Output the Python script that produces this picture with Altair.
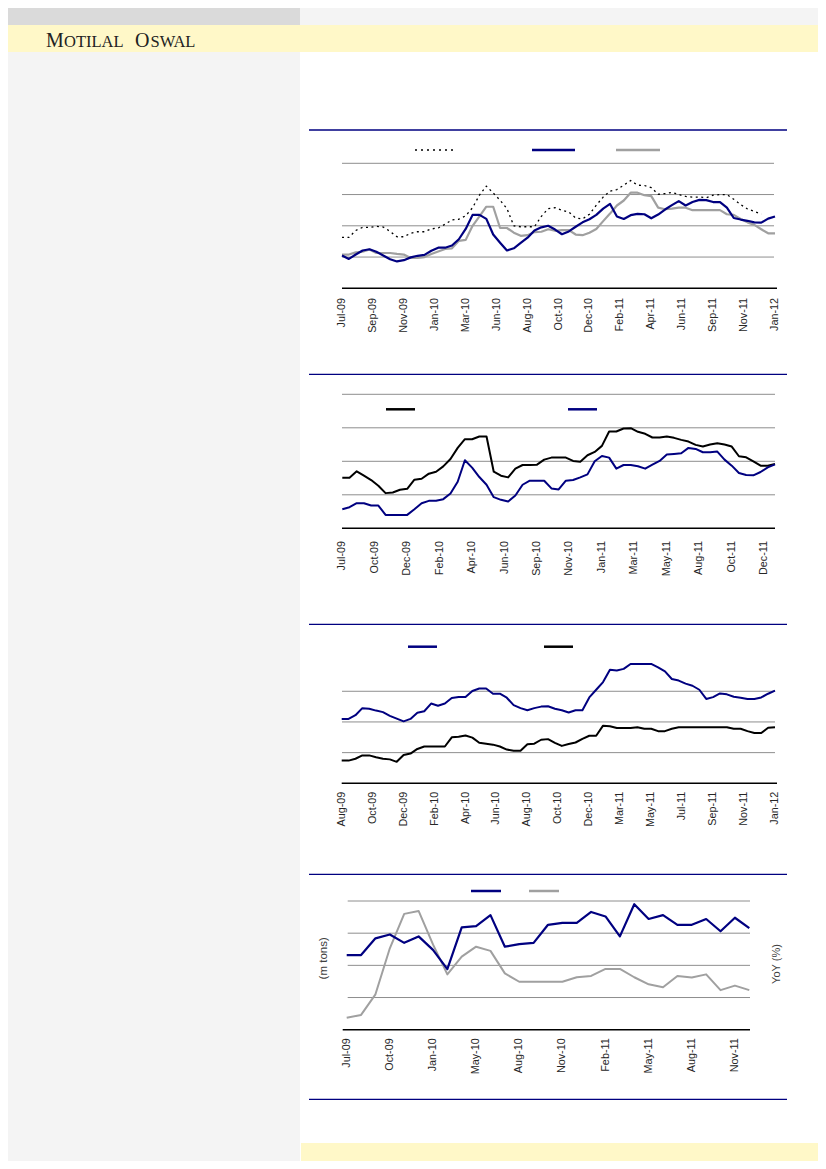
import altair as alt
import pandas as pd

# ------------------------------------------------------------------ data
# Chart 1 (weekly, index 0..126)
C1_LABELS = ["Jul-09", "Sep-09", "Nov-09", "Jan-10", "Mar-10", "Jun-10", "Aug-10", "Oct-10",
             "Dec-10", "Feb-11", "Apr-11", "Jun-11", "Sep-11", "Nov-11", "Jan-12"]
C1_TICKS = [0, 9, 18, 27, 36, 45, 54, 63, 72, 81, 90, 99, 108, 117, 126]
C1_WEEK = list(range(0, 127, 2))
C1_DOT = [163, 163, 185, 195, 195, 198, 196, 182, 165, 165, 176, 181, 181, 190, 193, 205,
          219, 221, 232, 258, 298, 327, 305, 282, 255, 200, 197, 197, 197, 230, 255, 258,
          250, 244, 225, 222, 237, 266, 292, 311, 316, 330, 345, 330, 329, 322, 301, 303,
          307, 300, 294, 292, 292, 290, 298, 300, 300, 285, 268, 254, 246, 237, None, None]
C1_BLUE = [105, 94, 108, 121, 125, 117, 105, 93, 86, 90, 99, 104, 107, 120, 130, 130,
           137, 157, 190, 235, 235, 222, 172, 146, 121, 128, 145, 162, 185, 195, 200, 188,
           173, 182, 197, 211, 221, 235, 255, 270, 230, 222, 234, 238, 237, 224, 236, 252,
           266, 279, 265, 276, 283, 282, 276, 276, 258, 225, 220, 216, 211, 210, 223, 230]
C1_GRAY = [108, 108, 115, 117, 124, 113, 113, 113, 110, 108, 97, 97, 100, 110, 118, 126,
           128, 152, 155, 200, 230, 261, 261, 193, 193, 178, 168, 170, 180, 181, 189, 184,
           186, 186, 172, 170, 178, 190, 215, 239, 265, 281, 306, 306, 298, 295, 258, 253,
           255, 258, 258, 250, 250, 250, 250, 250, 237, 235, 222, 211, 203, 189, 176, 176]

# Chart 2 (weekly, index 0..120)
C2_LABELS = ["Jul-09", "Oct-09", "Dec-09", "Feb-10", "Apr-10", "Jun-10", "Sep-10", "Nov-10",
             "Jan-11", "Mar-11", "May-11", "Aug-11", "Oct-11", "Dec-11"]
C2_TICKS = [0, 9, 18, 27, 36, 45, 54, 63, 72, 81, 90, 99, 108, 117]
C2_WEEK = list(range(0, 121, 2))
C2_BLACK = [151, 151, 170, 157, 144, 127, 105, 107, 115, 118, 145, 148, 163, 169, 185, 207,
            240, 266, 266, 274, 274, 169, 157, 152, 178, 189, 189, 190, 205, 211, 211,
            211, 201, 199, 218, 228, 246, 289, 289, 298, 299, 288, 282, 271, 271, 274, 270,
            264, 259, 249, 244, 250, 254, 250, 244, 215, 212, 200, 187, 187, 192]
C2_BLUE = [57, 63, 75, 75, 68, 68, 40, 40, 40, 40, 57, 75, 82, 82, 87, 104,
           139, 203, 181, 153, 130, 93, 85, 80, 98, 130, 142, 142, 142, 119, 116,
           142, 144, 152, 161, 200, 216, 211, 178, 189, 189, 185, 178, 190, 201, 220, 222,
           224, 240, 237, 227, 227, 229, 205, 187, 165, 159, 158, 168, 182, 191]

# Chart 3 (weekly, index 0..126)
C3_LABELS = ["Aug-09", "Oct-09", "Dec-09", "Feb-10", "Apr-10", "Jun-10", "Aug-10", "Oct-10",
             "Dec-10", "Mar-11", "May-11", "Jul-11", "Sep-11", "Nov-11", "Jan-12"]
C3_TICKS = [0, 9, 18, 27, 36, 45, 54, 63, 72, 81, 90, 99, 108, 117, 126]
C3_WEEK = list(range(0, 127, 2))
C3_BLUE = [210, 210, 222, 245, 243, 237, 232, 220, 211, 202, 210, 230, 235, 260, 253, 260,
           278, 281, 281, 301, 309, 309, 292, 292, 279, 255, 245, 238, 245, 250, 251, 243,
           238, 231, 238, 238, 280, 305, 330, 370, 368, 373, 389, 389, 389, 389, 378, 365,
           340, 335, 325, 318, 305, 275, 281, 293, 290, 282, 279, 275, 275, 280, 292, 302]
C3_BLACK = [74, 74, 80, 91, 91, 85, 80, 78, 70, 92, 97, 112, 120, 120, 120, 120,
            150, 152, 156, 149, 132, 129, 126, 120, 110, 106, 106, 127, 129, 142, 144, 132,
            122, 128, 133, 145, 155, 155, 188, 186, 180, 180, 180, 183, 178, 178, 170, 170,
            178, 183, 183, 183, 183, 183, 183, 183, 183, 178, 178, 170, 164, 164, 181, 183]

# Chart 4 (monthly, index 0..28)
C4_LABELS = ["Jul-09", "Oct-09", "Jan-10", "May-10", "Aug-10", "Nov-10", "Feb-11", "May-11",
             "Aug-11", "Nov-11"]
C4_TICKS = [0, 3, 6, 9, 12, 15, 18, 21, 24, 27]
C4_MONTH = list(range(29))
C4_OUTPUT = [5.16, 5.16, 5.42, 5.48, 5.35, 5.45, 5.24, 4.94, 5.59, 5.61,
             5.78, 5.29, 5.33, 5.35, 5.63, 5.66, 5.66, 5.83, 5.76, 5.45,
             5.95, 5.72, 5.78, 5.63, 5.63, 5.72, 5.53, 5.74, 5.58]
C4_YOY = [-6.3, -5.4, 1.0, 15.3, 26.0, 26.9, 16.5, 7.2, 12.7, 15.8,
          14.5, 7.5, 4.9, 4.9, 4.9, 4.9, 6.3, 6.7, 8.9, 8.9,
          6.3, 4.1, 3.2, 6.7, 6.2, 7.2, 2.3, 3.7, 2.3]

# ------------------------------------------------------------------ styles
NAVY = "#000080"
GRAYL = "#A0A0A0"
BLACK = "#000000"
GRID = "#8E8E8E"
LABEL_FONT = "Liberation Sans"
LABEL_COLOR = "#262626"

one = alt.Data(values=[{"k": 0}])


def rect(x0, x1, y0, y1, color):
    return alt.Chart(one).mark_rect(color=color, strokeWidth=0).encode(
        x=alt.value(x0), x2=alt.value(x1), y=alt.value(y0), y2=alt.value(y1))


def hline(x0, x1, y, color, width=1.0, dash=None):
    kw = dict(color=color, strokeWidth=width)
    if dash:
        kw["strokeDash"] = dash
    return alt.Chart(one).mark_rule(**kw).encode(
        x=alt.value(x0), x2=alt.value(x1), y=alt.value(y))


def text(txt, x, y, size, font, color, align="left", angle=0, baseline="alphabetic"):
    return alt.Chart(one).mark_text(text=txt, fontSize=size, font=font, color=color,
                                    align=align, angle=angle, baseline=baseline).encode(
        x=alt.value(x), y=alt.value(y))


def sc(domain, rng):
    return alt.Scale(domain=domain, range=rng, nice=False, zero=False)


def series(xs, vals, xscale, yscale, color, width, dash=None):
    df = pd.DataFrame({"t": xs, "v": vals})
    kw = dict(color=color, strokeWidth=width, strokeJoin="round")
    if dash:
        kw["strokeDash"] = dash
    return alt.Chart(df).mark_line(**kw).encode(
        x=alt.X("t:Q", scale=xscale, axis=None),
        y=alt.Y("v:Q", scale=yscale, axis=None))


def grid(levels, yscale, x0, x1, color, width=1.0):
    df = pd.DataFrame({"v": levels})
    return alt.Chart(df).mark_rule(color=color, strokeWidth=width).encode(
        y=alt.Y("v:Q", scale=yscale, axis=None), x=alt.value(x0), x2=alt.value(x1))


def ticklabels(ticks, labels, xscale, y):
    df = pd.DataFrame({"t": ticks, "s": labels})
    return alt.Chart(df).mark_text(angle=270, align="right", baseline="middle", fontSize=10.8,
                                   font=LABEL_FONT, color=LABEL_COLOR).encode(
        x=alt.X("t:Q", scale=xscale, axis=None), y=alt.value(y), text="s:N")


layers = []

# ------------------------------------------------------------------ page frame
layers += [
    rect(0, 292, 0, 17, "#DADADA"),
    rect(292, 810, 0, 17, "#F4F4F4"),
    rect(0, 810, 17, 44, "#FFF8C8"),
    rect(0, 292, 44, 1153, "#F4F4F4"),
    rect(293, 810, 1135, 1153, "#FFF8C8"),
    text("M", 38, 39.3, 20, "Liberation Serif", "#222222"),
    text("OTILAL", 56, 39.3, 16.5, "Liberation Serif", "#222222"),
    text("O", 127, 39.3, 20, "Liberation Serif", "#222222"),
    text("SWAL", 142.5, 39.3, 16.5, "Liberation Serif", "#222222"),
]

# ------------------------------------------------------------------ chart 1
x1s = sc([0, 126], [334, 767])
y1s = sc([0, 400], [280.3, 155.3])
layers += [
    hline(301, 779, 122, NAVY, 1.3),
    grid([100, 200, 300, 400], y1s, 334, 766, GRID),
    grid([0], y1s, 334, 769, BLACK, 1.5),
    hline(407, 447, 142, BLACK, 1.5, [2, 4]),
    hline(524, 567, 142, NAVY, 2.5),
    hline(608, 652, 142, GRAYL, 2.5),
    series(C1_WEEK, C1_DOT, x1s, y1s, BLACK, 1.3, [2, 3.5]),
    series(C1_WEEK, C1_GRAY, x1s, y1s, GRAYL, 2.2),
    series(C1_WEEK, C1_BLUE, x1s, y1s, NAVY, 2.2),
    ticklabels(C1_TICKS, C1_LABELS, x1s, 290),
]

# ------------------------------------------------------------------ chart 2
x2s = sc([0, 120], [334.3, 767])
y2s = sc([0, 400], [520.3, 386.3])
layers += [
    hline(301, 779, 366.3, NAVY, 1.3),
    grid([100, 200, 300, 400], y2s, 334, 767, GRID),
    grid([0], y2s, 334, 767, BLACK, 1.5),
    hline(378, 407, 401.3, BLACK, 2.5),
    hline(560, 589, 401.3, NAVY, 2.5),
    series(C2_WEEK, C2_BLACK, x2s, y2s, BLACK, 2.0),
    series(C2_WEEK, C2_BLUE, x2s, y2s, NAVY, 2.0),
    ticklabels(C2_TICKS, C2_LABELS, x2s, 533),
]

# ------------------------------------------------------------------ chart 3
x3s = sc([0, 126], [333.7, 767])
y3s = sc([0, 400], [775.3, 652.6])
layers += [
    hline(301, 779, 616.3, NAVY, 1.3),
    grid([100, 200, 300], y3s, 334, 767, GRID),
    grid([0], y3s, 333.7, 769, BLACK, 1.5),
    hline(400, 429, 638.7, NAVY, 2.5),
    hline(536, 565, 638.7, BLACK, 2.5),
    series(C3_WEEK, C3_BLACK, x3s, y3s, BLACK, 2.0),
    series(C3_WEEK, C3_BLUE, x3s, y3s, NAVY, 2.0),
    ticklabels(C3_TICKS, C3_LABELS, x3s, 783.7),
]

# ------------------------------------------------------------------ chart 4
x4s = sc([0, 28], [338.7, 741.3])
y4l = sc([4, 6], [1021.7, 893])
y4r = sc([-10, 30], [1021.7, 893])
layers += [
    hline(301, 779, 866.3, NAVY, 1.3),
    hline(301, 779, 1091.3, NAVY, 1.3),
    grid([4.5, 5.0, 5.5, 6.0], y4l, 339.7, 742, GRID),
    grid([4.0], y4l, 334.7, 742, BLACK, 1.5),
    hline(463, 493, 883, NAVY, 2.5),
    hline(521, 551, 883, GRAYL, 2.5),
    series(C4_MONTH, C4_YOY, x4s, y4r, GRAYL, 2.0),
    series(C4_MONTH, C4_OUTPUT, x4s, y4l, NAVY, 2.2),
    ticklabels(C4_TICKS, C4_LABELS, x4s, 1030.3),
    text("(m tons)", 316, 950.3, 11.5, LABEL_FONT, "#404040", align="center", angle=270,
         baseline="middle"),
    text("YoY (%)", 768.7, 956, 11, LABEL_FONT, "#404040", align="center", angle=270,
         baseline="middle"),
]

chart = alt.layer(*layers).resolve_scale(x="independent", y="independent").properties(
    width=810, height=1153, padding=0,
    autosize=alt.AutoSizeParams(type="none"), background="#FFFFFF",
).configure_view(strokeWidth=0)

chart.save("out.html", embed_options={"renderer": "svg", "actions": False})
